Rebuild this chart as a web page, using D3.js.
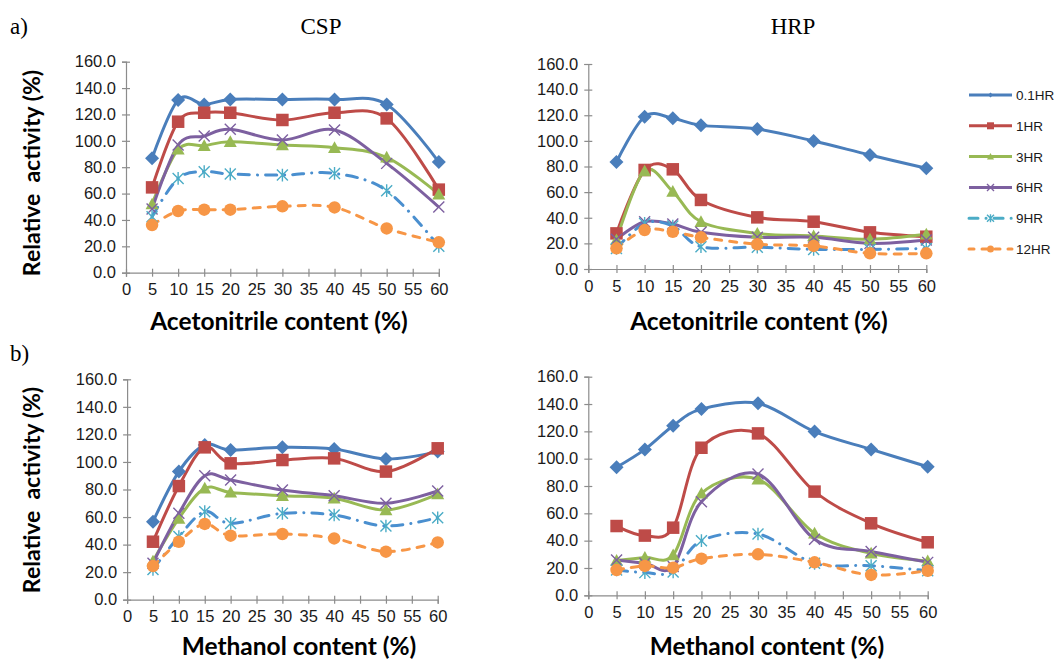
<!DOCTYPE html>
<html>
<head>
<meta charset="utf-8">
<script src="https://cdn.jsdelivr.net/npm/d3@7"></script>
<style>
  html, body { margin: 0; padding: 0; background: #fff; }
  svg { display: block; }
</style>
</head>
<body>
<svg id="chart" width="1054" height="662"></svg>
<script>
// Solvent content (%) at which activity was measured
const contents = [5, 10, 15, 20, 30, 40, 50, 60];
const seriesNames = ["0.1HR", "1HR", "3HR", "6HR", "9HR", "12HR"];
const xTicks = d3.range(0, 61, 5);
const yTicks = [0, 20, 40, 60, 80, 100, 120, 140, 160];

// Relative activity (%) — rows follow seriesNames
const acetonitrileCSP = [
  [86.7, 131.0, 127.6, 131.4, 131.4, 131.4, 127.6, 83.9],
  [64.7, 114.5, 121.3, 121.3, 115.8, 121.3, 117.0, 63.0],
  [52.0, 93.5, 96.3, 99.3, 96.8, 94.8, 87.5, 59.5],
  [48.3, 96.8, 103.6, 108.7, 100.6, 108.2, 82.9, 49.8],
  [42.5, 71.5, 76.6, 74.8, 74.0, 75.3, 62.2, 20.0],
  [36.1, 46.8, 47.8, 47.8, 50.3, 49.5, 33.6, 23.0]
];
const acetonitrileHRP = [
  [83.5, 118.9, 117.6, 112.1, 109.3, 99.9, 89.0, 78.6],
  [27.8, 77.3, 77.8, 53.9, 40.3, 36.9, 28.6, 25.2],
  [22.6, 76.5, 60.4, 36.9, 27.8, 25.8, 23.2, 27.1],
  [23.2, 36.9, 35.1, 28.6, 24.7, 24.7, 20.0, 22.6],
  [16.0, 35.6, 33.6, 17.4, 17.0, 15.3, 15.3, 16.0],
  [16.1, 30.4, 29.1, 24.7, 19.3, 18.0, 12.2, 12.2]
];
const methanolCSP = [
  [56.6, 93.0, 112.3, 108.7, 110.6, 109.4, 102.2, 107.5],
  [42.1, 82.5, 110.6, 99.0, 101.4, 102.6, 93.0, 109.9],
  [28.0, 59.0, 80.9, 77.9, 75.5, 73.6, 65.1, 76.7],
  [26.4, 62.7, 90.0, 86.9, 79.6, 75.5, 70.0, 78.9],
  [22.0, 45.8, 63.9, 55.4, 62.7, 61.5, 53.5, 59.5],
  [24.4, 42.1, 55.0, 46.5, 47.7, 44.5, 34.9, 41.6]
];
const methanolHRP = [
  [93.7, 106.8, 124.1, 136.3, 140.5, 119.8, 106.8, 94.1],
  [50.7, 43.7, 49.5, 108.0, 118.5, 75.9, 52.7, 38.8],
  [25.4, 27.6, 29.5, 74.6, 84.9, 45.4, 30.7, 25.1],
  [25.9, 23.4, 21.0, 68.5, 88.8, 41.0, 32.0, 24.1],
  [18.5, 16.6, 17.1, 40.0, 44.9, 23.4, 21.7, 18.0],
  [18.5, 21.5, 20.2, 26.8, 30.0, 24.1, 14.9, 18.0]
];

const colors = ["#4A7EBB", "#BE4B48", "#98B954", "#7D60A0", "#4BACC6", "#F79646"];
const lineColors = ["#4A7EBB", "#BE4B48", "#98B954", "#7D60A0", "#4A8FCF", "#F79646"];
const dashes = [null, null, null, null, "11,8,0.1,8", "7,8"];
const markerKinds = ["diamond", "square", "triangle", "x", "star", "circle"];

const svg = d3.select("#chart");

// marker shapes; s is the overall marker width in px
function markerPath(kind, s) {
  const h = s / 2;
  switch (kind) {
    case "diamond": return `M0,${-h}L${h},0L0,${h}L${-h},0Z`;
    case "square": return `M${-h},${-h}H${h}V${h}H${-h}Z`;
    case "triangle": return `M0,${-h}L${h},${h * 0.8}H${-h}Z`;
    case "circle": return d3.arc()({ innerRadius: 0, outerRadius: h, startAngle: 0, endAngle: 2 * Math.PI });
    case "x": return `M${-h},${-h}L${h},${h}M${-h},${h}L${h},${-h}`;
    case "star": return `M${-h},${-h}L${h},${h}M${-h},${h}L${h},${-h}M0,${-h * 1.15}L0,${h * 1.15}`;
  }
}

function drawMarker(g, kind, color, x, y, s) {
  const p = g.append("path")
    .attr("transform", `translate(${x},${y})`)
    .attr("d", markerPath(kind, s));
  if (kind === "x" || kind === "star") {
    p.attr("fill", "none").attr("stroke", color).attr("stroke-width", 1.4);
  } else {
    p.attr("fill", color).attr("stroke", "none");
  }
}

const sizes = [14, 12.5, 13, 11, 11, 12.5];

function panel(cfg) {
  const x = d3.scaleLinear().domain([0, 60]).range(cfg.xr);
  const y = d3.scaleLinear().domain([0, 160]).range(cfg.yr);
  const g = svg.append("g");

  // axes, with tick marks crossing the axis line
  const xAxis = d3.axisBottom(x).tickValues(xTicks).tickSize(4).tickPadding(7)
    .tickFormat(d3.format("d"));
  const yAxis = d3.axisLeft(y).tickValues(yTicks).tickSize(4).tickPadding(6)
    .tickFormat(d3.format(".1f"));
  const gx = g.append("g").attr("transform", `translate(0,${cfg.yr[0]})`).call(xAxis);
  const gy = g.append("g").attr("transform", `translate(${cfg.xr[0]},0)`).call(yAxis);
  gx.selectAll(".tick line").attr("y1", -4);
  gy.selectAll(".tick line").attr("x1", 4);
  [gx, gy].forEach(a => {
    a.select(".domain").attr("stroke", "#8C8C8C").attr("stroke-width", 1.2);
    a.selectAll(".tick line").attr("stroke", "#8C8C8C").attr("stroke-width", 1.2);
    a.selectAll(".tick text").attr("fill", "#1a1a1a")
      .style("font-family", "'Liberation Sans', Arial, sans-serif")
      .style("font-size", "16.5px");
  });

  // series lines (smoothed)
  const line = d3.line()
    .x((d, i) => x(contents[i]))
    .y(d => y(d))
    .curve(d3.curveCardinal.tension(0));
  cfg.data.forEach((vals, si) => {
    g.append("path")
      .attr("d", line(vals))
      .attr("fill", "none")
      .attr("stroke", lineColors[si])
      .attr("stroke-width", 3)
      .attr("stroke-linejoin", "round")
      .attr("stroke-linecap", dashes[si] ? "round" : "butt")
      .attr("stroke-dasharray", dashes[si]);
  });
  cfg.data.forEach((vals, si) => {
    const mg = g.append("g");
    vals.forEach((v, i) => drawMarker(mg, markerKinds[si], colors[si], x(contents[i]), y(v), sizes[si]));
  });

  // axis titles
  g.append("text")
    .attr("x", cfg.xTitleX).attr("y", cfg.xTitleY)
    .attr("text-anchor", "middle")
    .style("font-family", "Lato, 'Open Sans', sans-serif")
    .style("font-weight", "bold").style("font-size", "24.5px")
    .attr("fill", "#000")
    .text(cfg.xTitle);
  if (cfg.yTitle) {
    g.append("text")
      .attr("transform", `translate(${cfg.yTitleX},${cfg.yTitleY}) rotate(-90)`)
      .attr("text-anchor", "middle")
      .style("font-family", "Lato, 'Open Sans', sans-serif")
      .style("font-weight", "bold").style("font-size", "23px")
      .style("white-space", "pre")
      .attr("fill", "#000")
      .text(cfg.yTitle);
  }
}

panel({ xr: [126, 438.8], yr: [272.7, 61.7], data: acetonitrileCSP,
  xTitle: "Acetonitrile content (%)", xTitleX: 279, xTitleY: 330,
  yTitle: "Relative  activity (%)", yTitleX: 40, yTitleY: 173 });
panel({ xr: [588.3, 926.3], yr: [269, 64], data: acetonitrileHRP,
  xTitle: "Acetonitrile content (%)", xTitleX: 759, xTitleY: 330 });
panel({ xr: [127.1, 437.7], yr: [599.7, 379.3], data: methanolCSP,
  xTitle: "Methanol content (%)", xTitleX: 299, xTitleY: 655,
  yTitle: "Relative  activity (%)", yTitleX: 40, yTitleY: 490 });
panel({ xr: [588.3, 927.7], yr: [595.3, 376.7], data: methanolHRP,
  xTitle: "Methanol content (%)", xTitleX: 767, xTitleY: 655 });

// panel titles and labels
const serif = "'Liberation Serif', 'Times New Roman', serif";
[["a)", 10, 34, "start"], ["b)", 10, 361, "start"], ["CSP", 321, 34, "middle"], ["HRP", 793, 34, "middle"]]
  .forEach(([t, x, y, a]) => {
    svg.append("text").attr("x", x).attr("y", y).attr("text-anchor", a)
      .style("font-family", serif).style("font-size", "23px").attr("fill", "#000").text(t);
  });

// legend
const lg = svg.append("g");
const legendY = d3.scalePoint().domain(seriesNames).range([95, 249]);
const legendDash = [null, null, null, null, "9,8,0.1,8", "5,8"];
seriesNames.forEach((name, si) => {
  const yy = legendY(name);
  lg.append("line").attr("x1", 969).attr("x2", 1012).attr("y1", yy).attr("y2", yy)
    .attr("stroke", si === 4 ? colors[4] : lineColors[si]).attr("stroke-width", 3)
    .attr("stroke-linecap", legendDash[si] ? "round" : "butt")
    .attr("stroke-dasharray", legendDash[si]);
  drawMarker(lg, markerKinds[si], colors[si], 990.5, yy, si === 0 ? 5 : 7);
  lg.append("text").attr("x", 1016).attr("y", yy + 5)
    .style("font-family", "'Liberation Sans', Arial, sans-serif").style("font-size", "13.5px")
    .attr("fill", "#1a1a1a").text(name);
});
</script>
</body>
</html>
